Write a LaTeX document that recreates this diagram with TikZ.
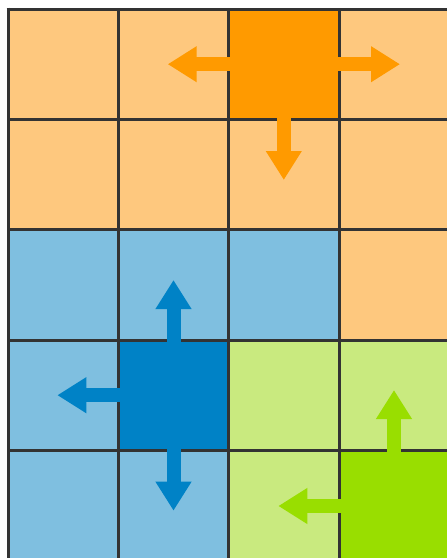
\documentclass[tikz,border=0pt]{standalone}
\usepackage{xcolor}
\usepackage{tikz}
\usetikzlibrary{arrows.meta}

\definecolor{lorange}{HTML}{FEC87E}
\definecolor{dorange}{HTML}{FF9A00}
\definecolor{lblue}{HTML}{7FBFE0}
\definecolor{dblue}{HTML}{0082C6}
\definecolor{lgreen}{HTML}{C9EA7F}
\definecolor{dgreen}{HTML}{99DE00}
\definecolor{gridgray}{HTML}{333333}

\tikzset{
  gridline/.style={gridgray,line width=3pt},
  bigarrow/.style={line width=14pt,-{Triangle[length=29pt,width=34pt]}}
}

\begin{document}
\begin{tikzpicture}[x=1pt,y=-1pt]
\useasboundingbox (0,0) rectangle (447,558);
\fill[white] (0,0) rectangle (447,558);
% cells
\fill[lorange] (8,9) rectangle (447,229.7);
\fill[lorange] (339,229.7) rectangle (447,340);
\fill[lblue] (8,229.7) rectangle (339,340);
\fill[lblue] (8,340) rectangle (228.7,558);
\fill[lgreen] (228.7,340) rectangle (447,558);
\fill[dorange] (228.7,9) rectangle (339,119.3);
\fill[dblue] (118.3,340) rectangle (228.7,450.5);
\fill[dgreen] (339,450.5) rectangle (447,558);
% grid
\draw[gridline] (8,7.5) -- (8,558);
\draw[gridline] (118.3,9) -- (118.3,558);
\draw[gridline] (228.7,9) -- (228.7,558);
\draw[gridline] (339,9) -- (339,558);
\draw[gridline] (6.5,9) -- (447,9);
\draw[gridline] (8,119.3) -- (447,119.3);
\draw[gridline] (8,229.7) -- (447,229.7);
\draw[gridline] (8,340) -- (447,340);
\draw[gridline] (8,450.5) -- (447,450.5);
% orange arrows
\draw[bigarrow,dorange] (330,64.2) -- (400,64.2);
\draw[bigarrow,dorange] (237,64.2) -- (167.7,64.2);
\draw[bigarrow,dorange] (283.8,110) -- (283.8,180);
% blue arrows
\draw[bigarrow,dblue] (173.5,350) -- (173.5,280);
\draw[bigarrow,dblue] (127,395.2) -- (57.3,395.2);
\draw[bigarrow,dblue] (173.5,440) -- (173.5,510.7);
% green arrows
\draw[bigarrow,dgreen] (394,460) -- (394,390);
\draw[bigarrow,dgreen] (348,506) -- (278.3,506);
\end{tikzpicture}
\end{document}
